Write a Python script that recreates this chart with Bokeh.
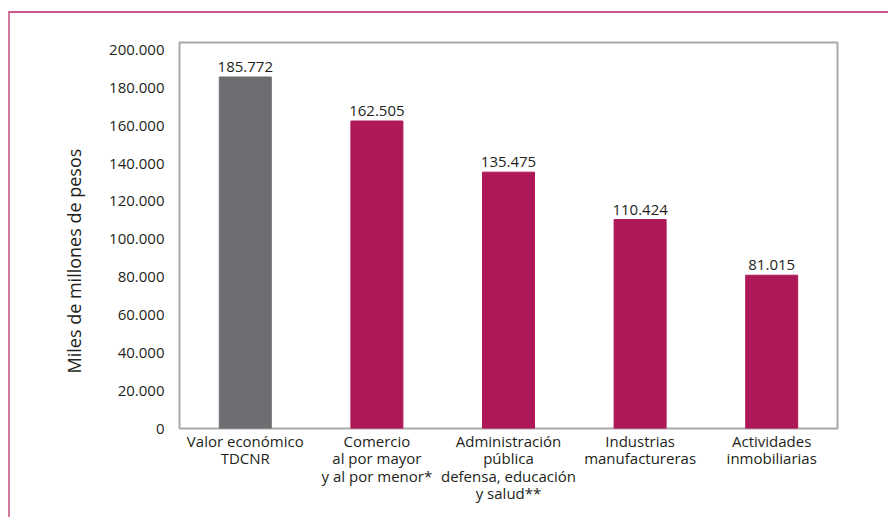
from bokeh.plotting import figure
from bokeh.models import FixedTicker, ColumnDataSource, Title, InlineStyleSheet
from bokeh.core.properties import value
from bokeh.embed import file_html
from bokeh.resources import INLINE

categories = ["Valor económico\nTDCNR",
              "Comercio\nal por mayor\ny al por menor*",
              "Administración\npública\ndefensa, educación\ny salud**",
              "Industrias\nmanufactureras",
              "Actividades\ninmobiliarias"]
values = [185772, 162505, 135475, 110424, 81015]
value_labels = ["185.772", "162.505", "135.475", "110.424", "81.015"]
bar_colors = ["#6d6e71", "#ae1858", "#ae1858", "#ae1858", "#ae1858"]
y_ticks = [0, 20000, 40000, 60000, 80000, 100000, 120000, 140000, 160000, 180000, 200000]
y_tick_labels = ["0", "20.000", "40.000", "60.000", "80.000", "100.000",
                 "120.000", "140.000", "160.000", "180.000", "200.000"]
y_title = "Miles de millones de pesos"

FONT = "Open Sans"
TXT = "#231f20"

src = ColumnDataSource(dict(cat=categories, val=values, lab=value_labels, col=bar_colors))

frame_css = InlineStyleSheet(css="""
:host { position: relative; }
:host::before {
  content: ""; position: absolute; left: -2px; top: -2px;
  width: calc(100% + 2px); height: calc(100% + 2px);
  border-left: 2px solid #d27a9f; border-top: 2px solid #c95a8a;
  box-sizing: border-box; pointer-events: none;
}
""")

p = figure(width=878, height=504, x_range=categories, y_range=(0, 204000),
           output_backend="svg", toolbar_location=None,
           min_border_left=169, min_border_right=51, min_border_top=29, min_border_bottom=89,
           styles={"margin-left": "10px", "margin-top": "13px"},
           stylesheets=[frame_css])

p.vbar(x="cat", top="val", width=0.395, color="col", source=src)
p.text(x="cat", y="val", text="lab", source=src, text_align="center", text_baseline="bottom",
       y_offset=-5, text_font=value(FONT), text_font_size="15px", text_color=TXT)

p.xgrid.visible = False
p.ygrid.visible = False
p.outline_line_color = "#a9a9a9"
p.outline_line_width = 2
p.background_fill_color = "white"
p.border_fill_color = "white"

p.yaxis.ticker = FixedTicker(ticks=y_ticks)
p.yaxis.major_label_overrides = {t: l for t, l in zip(y_ticks, y_tick_labels)}
p.yaxis.axis_line_color = None
p.yaxis.major_tick_line_color = None
p.yaxis.minor_tick_line_color = None
p.yaxis.major_label_standoff = 9
p.yaxis.major_label_text_font = FONT
p.yaxis.major_label_text_font_size = "15px"
p.yaxis.major_label_text_color = TXT

p.xaxis.axis_line_color = None
p.xaxis.major_tick_line_color = None
p.xaxis.minor_tick_line_color = None
p.xaxis.major_label_standoff = -4
p.xaxis.major_label_text_font = FONT
p.xaxis.major_label_text_font_size = "15px"
p.xaxis.major_label_text_color = TXT
p.xaxis.major_label_text_line_height = 0.88

ytitle = Title(text=y_title, align="left", offset=55, standoff=41,
               text_font=FONT, text_font_size="18px", text_font_style="normal",
               text_color=TXT)
p.add_layout(ytitle, "left")

open("out.html", "w").write(file_html(p, INLINE))
